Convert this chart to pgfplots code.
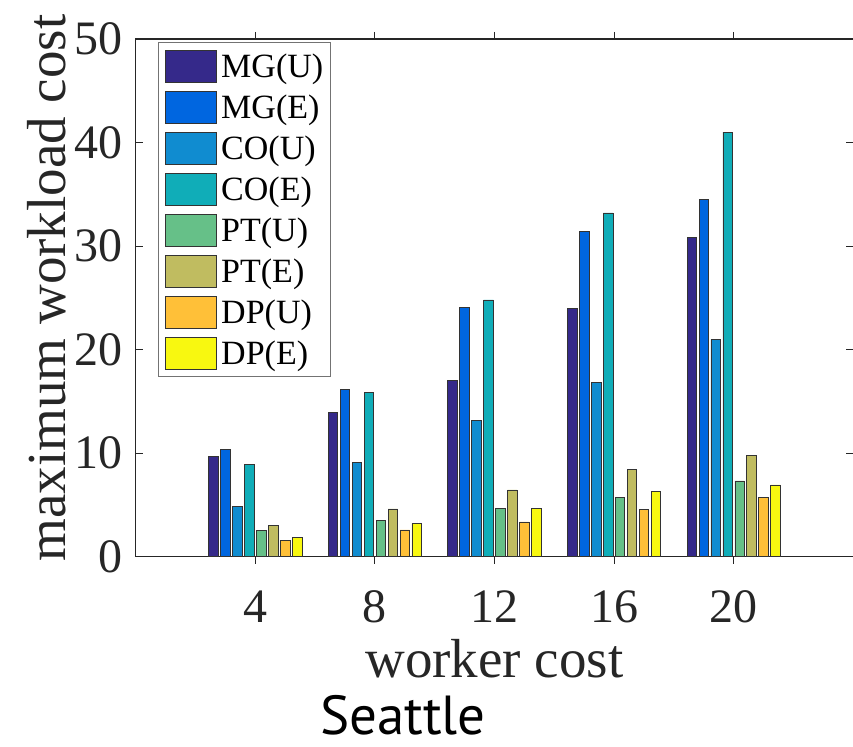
\documentclass[border=0pt]{standalone}
\usepackage{pgfplots}
\pgfplotsset{compat=1.18}
\usepackage{fontspec}
\setmainfont{Liberation Serif}
\newfontfamily\seattlefont{PT Sans}
\definecolor{cMGU}{HTML}{35298A}
\definecolor{cMGE}{HTML}{0066E0}
\definecolor{cCOU}{HTML}{108CD0}
\definecolor{cCOE}{HTML}{10ADB8}
\definecolor{cPTU}{HTML}{66C088}
\definecolor{cPTE}{HTML}{C0BC60}
\definecolor{cDPU}{HTML}{FFC038}
\definecolor{cDPE}{HTML}{F8F810}
\definecolor{axc}{HTML}{262626}
\begin{document}
\begin{tikzpicture}
\begin{axis}[
  at={(0,0)}, anchor=south west,
  scale only axis,
  width=717.6bp, height=517.7bp,
  xmin=0, xmax=24, ymin=0, ymax=50,
  xtick={4,8,12,16,20},
  ytick={0,10,20,30,40,50},
  tick align=inside,
  major tick length=7bp,
  every tick/.style={axc, line width=1bp},
  axis line style={axc, line width=1.2bp},
  /pgf/number format/assume math mode=true,
  ticklabel style={font=\fontsize{48bp}{58bp}\selectfont, text=axc, inner sep=0bp},
  xticklabel style={anchor=base, yshift=-59bp},
  yticklabel style={anchor=east, xshift=-12.7bp},
  xlabel={worker cost},
  ylabel={maximum workload cost},
  label style={font=\fontsize{55bp}{66bp}\selectfont, text=axc, inner sep=0bp},
  xlabel style={at={(axis description cs:0.5,-0.2343)}, anchor=base},
  ylabel style={at={(axis description cs:-0.0985,0.519)}, anchor=base},
  ybar,
  bar width=0.32,
  legend image code/.code={\draw[#1, draw=black!80, line width=0.8bp] (0bp,-16bp) rectangle (51bp,16bp);},
  legend cell align=left,
  legend style={at={(rel axis cs:0.031,0.994)}, anchor=north west,
    draw=black!55, line width=1bp, fill=white,
    inner xsep=7bp, inner ysep=3bp,
    font=\fontsize{34bp}{40bp}\selectfont,
    row sep=0bp,
    nodes={inner xsep=0bp, inner ysep=0bp, text height=31.75bp, text depth=9.25bp},
    /tikz/every odd column/.append style={column sep=4bp}},
]
\addplot[fill=cMGU, draw=black!80, line width=0.8bp, bar shift=-1.4] coordinates {(4,9.67) (8,13.9) (12,17.0) (16,23.95) (20,30.8)};
\addplot[fill=cMGE, draw=black!80, line width=0.8bp, bar shift=-1.0] coordinates {(4,10.35) (8,16.15) (12,24.08) (16,31.4) (20,34.47)};
\addplot[fill=cCOU, draw=black!80, line width=0.8bp, bar shift=-0.6] coordinates {(4,4.87) (8,9.13) (12,13.19) (16,16.83) (20,20.99)};
\addplot[fill=cCOE, draw=black!80, line width=0.8bp, bar shift=-0.2] coordinates {(4,8.9) (8,15.86) (12,24.8) (16,33.2) (20,41.0)};
\addplot[fill=cPTU, draw=black!80, line width=0.8bp, bar shift=0.2] coordinates {(4,2.55) (8,3.48) (12,4.68) (16,5.68) (20,7.32)};
\addplot[fill=cPTE, draw=black!80, line width=0.8bp, bar shift=0.6] coordinates {(4,3.03) (8,4.61) (12,6.45) (16,8.45) (20,9.74)};
\addplot[fill=cDPU, draw=black!80, line width=0.8bp, bar shift=1.0] coordinates {(4,1.61) (8,2.58) (12,3.36) (16,4.58) (20,5.74)};
\addplot[fill=cDPE, draw=black!80, line width=0.8bp, bar shift=1.4] coordinates {(4,1.9) (8,3.19) (12,4.68) (16,6.26) (20,6.93)};
\legend{MG(U),MG(E),CO(U),CO(E),PT(U),PT(E),DP(U),DP(E)}
\end{axis}
\node[anchor=base, font=\seattlefont\fontsize{55bp}{64bp}\selectfont] at (267.3bp,-178bp) {Seattle};
\pgfresetboundingbox
\useasboundingbox (-135.7bp,-190.3bp) rectangle (717.3bp,556.7bp);
\end{tikzpicture}
\end{document}
